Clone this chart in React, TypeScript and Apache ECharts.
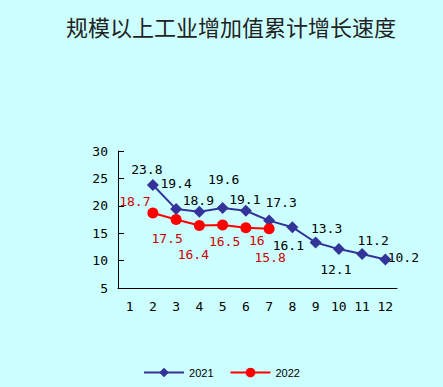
import React, { useEffect, useRef } from "react";
import * as echarts from "echarts";

const months = ["1", "2", "3", "4", "5", "6", "7", "8", "9", "10", "11", "12"];
const values2021: (number | null)[] = [null, 23.8, 19.4, 18.9, 19.6, 19.1, 17.3, 16.1, 13.3, 12.1, 11.2, 10.2];
const values2022: (number | null)[] = [null, 18.7, 17.5, 16.4, 16.5, 16, 15.8, null, null, null, null, null];
const yTicks = [5, 10, 15, 20, 25, 30];

// label offsets (style only)
const offsets2021: [number, number][] = [
  [0, 0], [-6, -15], [0, -26], [-1, -11], [1, -28], [-1, -11], [12, -18], [-4, 18], [11, -14], [-3, 20], [11, -14], [18, -2],
];
const offsets2022: [number, number][] = [
  [0, 0], [-18, -11], [-9, 19], [-6, 29], [2, 17], [11, 13], [1, 29], [0, 0], [0, 0], [0, 0], [0, 0], [0, 0],
];

const labelFont = "'DejaVu Sans Mono', monospace";

export default function App() {
  const ref = useRef<HTMLDivElement>(null);
  useEffect(() => {
    document.body.style.margin = "0";
    if (!ref.current) return;
    const chart = echarts.init(ref.current, undefined, { renderer: "svg" });
    const mk = (vals: (number | null)[], offs: [number, number][], color: string) =>
      vals.map((v, i) =>
        v === null
          ? null
          : {
              value: v,
              label: {
                show: true,
                position: "inside",
                offset: offs[i],
                color,
                fontSize: 13,
                fontFamily: labelFont,
                formatter: String(v),
              },
            }
      );
    chart.setOption({
      animation: false,
      backgroundColor: "#ccffff",
      title: {
        text: "规模以上工业增加值累计增长速度",
        left: 61,
        top: 10,
        textStyle: {
          fontFamily: "'Noto Sans CJK SC', sans-serif",
          fontSize: 22,
          fontWeight: "normal",
          color: "#222222",
        },
      },
      grid: { left: 118, right: 46, top: 151, bottom: 99 },
      legend: {
        bottom: 4,
        left: "center",
        itemWidth: 40,
        itemHeight: 12,
        itemGap: 16,
        textStyle: { fontSize: 11, color: "#000", fontFamily: "'Liberation Sans', sans-serif" },
        data: ["2021", "2022"],
      },
      xAxis: {
        type: "category",
        data: months,
        boundaryGap: true,
        axisLine: { lineStyle: { color: "#000", width: 1 } },
        axisTick: { inside: true, length: 6, lineStyle: { color: "#000" } },
        axisLabel: { color: "#000", fontSize: 13, fontFamily: labelFont, margin: 12 },
      },
      yAxis: {
        type: "value",
        min: 5,
        max: 30,
        interval: 5,
        axisLine: { show: true, lineStyle: { color: "#000", width: 1 } },
        axisTick: { show: true, inside: true, length: 6, lineStyle: { color: "#000" } },
        splitLine: { show: false },
        axisLabel: {
          color: "#000",
          fontSize: 13,
          fontFamily: labelFont,
          margin: 10,
          formatter: (v: number) => (yTicks.includes(v) ? String(v) : ""),
        },
      },
      series: [
        {
          name: "2021",
          type: "line",
          data: mk(values2021, offsets2021, "#000000"),
          symbol: "diamond",
          symbolSize: 12,
          lineStyle: { color: "#333399", width: 2 },
          itemStyle: { color: "#333399" },
          connectNulls: false,
        },
        {
          name: "2022",
          type: "line",
          data: mk(values2022, offsets2022, "#cc0000"),
          symbol: "circle",
          symbolSize: 11,
          lineStyle: { color: "#ff0000", width: 2 },
          itemStyle: { color: "#ff0000" },
          connectNulls: false,
        },
      ],
    });
    return () => chart.dispose();
  }, []);
  return <div ref={ref} style={{ width: 443, height: 387 }} />;
}
